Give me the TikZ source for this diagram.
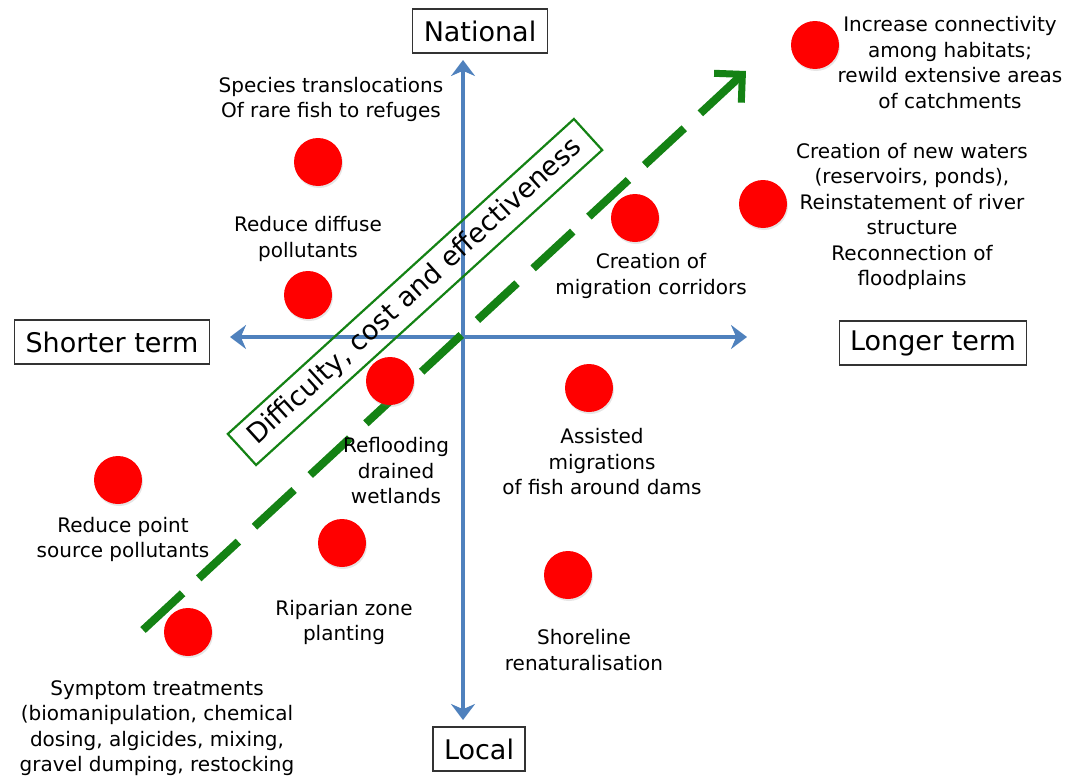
\documentclass[tikz,border=0pt]{standalone}
\usepackage{fontspec}
\setmainfont{DejaVu Sans}
\usetikzlibrary{arrows.meta,shadows}
\definecolor{axisblue}{RGB}{79,129,189}
\definecolor{trendgreen}{RGB}{20,130,20}
\definecolor{dotred}{RGB}{255,0,0}

\begin{document}
\begin{tikzpicture}[x=1pt, y=-1pt,
    axisbox/.style={draw=black!80, line width=1.2pt, inner xsep=11pt, minimum height=44pt,
      font=\fontsize{27}{30}\selectfont},
    lbl/.style={align=center, font=\fontsize{20}{25.5}\selectfont},
    reddot/.style={circle, fill=dotred, minimum size=48pt, inner sep=0pt,
      drop shadow={opacity=0.2, shadow xshift=1pt, shadow yshift=-2pt}}]
  \useasboundingbox (0,0) rectangle (1071,779);

  % Axes
  \coordinate (axN) at (463,60);
  \coordinate (axS) at (463,720);
  \coordinate (axW) at (230,337);
  \coordinate (axE) at (747,337);
  \draw[axisblue, line width=4pt, {Stealth[length=16pt, width=24pt]}-{Stealth[length=16pt, width=24pt]}] (axW) -- (axE);
  \draw[axisblue, line width=4pt, {Stealth[length=16pt, width=24pt]}-{Stealth[length=16pt, width=24pt]}] (axN) -- (axS);

  \node[axisbox] (national) at (480,31) {National};
  \node[axisbox] (local) at (479,749) {Local};
  \node[axisbox] (shorter) at (112,342) {Shorter term};
  \node[axisbox] (longer) at (933,343) {Longer term};

  % Trend k = effort
  \node[draw=trendgreen, line width=2.2pt, rotate=42.3, minimum width=468pt, minimum height=42pt,
    font=\fontsize{27}{30}\selectfont] (effort) at (415,292) {Difficulty, cost and effectiveness};
  \coordinate (trendA) at (143,630);
  \coordinate (trendB) at (746,71);
  \draw[trendgreen, line width=8pt, dash pattern=on 54pt off 22pt,
    -{Straight Barb[length=20pt, width=40pt, line width=7pt]}] (trendA) -- (trendB);

  % Measures
  \foreach \n/\x/\y in {transloc/318/162, diffuse/308/295, corridor/635/218, connect/815/45,
      waters/763/204, reflood/390/381, assisted/589/388, point/118/480,
      riparian/342/543, shore/568/575, symptom/188/632}
    \node[reddot] (\n) at (\x,\y) {};

  \node[lbl] (transloc-t) at (331,99.5) {Species translocations\\Of rare fish to refuges};
  \node[lbl] (diffuse-t) at (308,239) {Reduce diffuse\\pollutants};
  \node[lbl] (corridor-t) at (651,276) {Creation of\\migration corridors};
  \node[lbl] (connect-t) at (950,62.5) {Increase connectivity\\among habitats;\\rewild extensive areas\\of catchments};
  \node[lbl] (waters-t) at (912,216.5) {Creation of new waters\\(reservoirs, ponds),\\Reinstatement of river\\structure\\Reconnection of\\floodplains};
  \node[lbl] (reflood-t) at (396,471) {Reflooding\\drained\\wetlands};
  \node[lbl] (assisted-t) at (602,462) {Assisted\\migrations\\of fish around dams};
  \node[lbl] (point-t) at (123,539.5) {Reduce point\\source pollutants};
  \node[lbl] (riparian-t) at (344,622.5) {Riparian zone\\planting};
  \node[lbl] (shore-t) at (584,650) {Shoreline\\renaturalisation};
  \node[lbl] (symptom-t) at (157,728) {Symptom treatments\\(biomanipulation, chemical\\dosing, algicides, mixing,\\gravel dumping, restocking};
\end{tikzpicture}
\end{document}
